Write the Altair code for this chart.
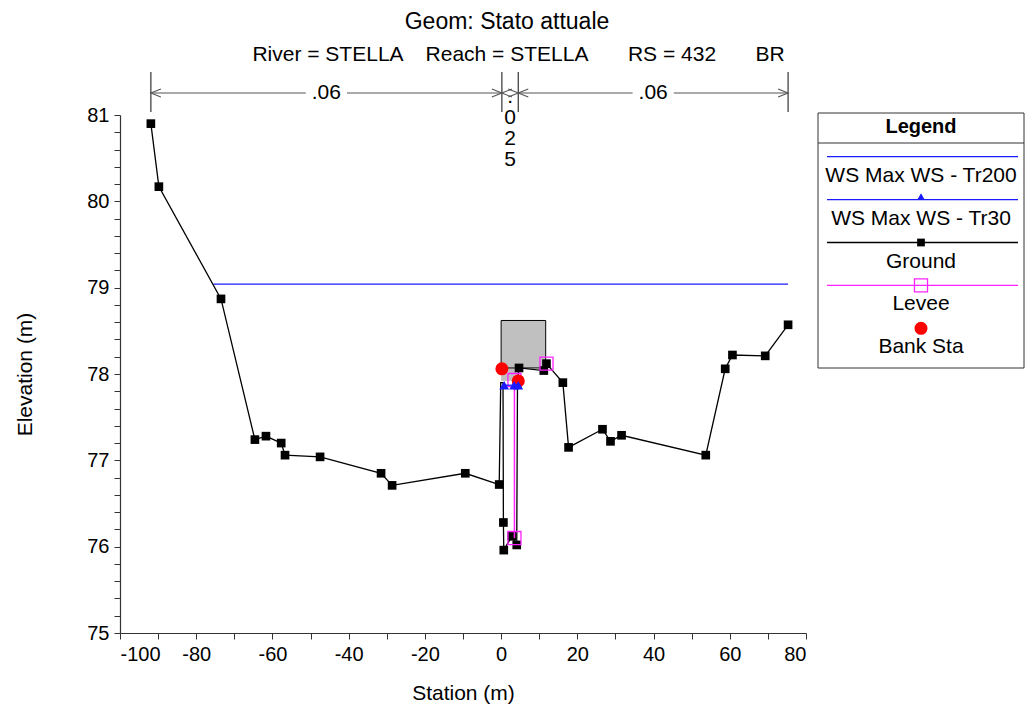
import altair as alt
import pandas as pd

FONT = "Liberation Sans"

# ---------------- data ----------------
chart_title = "Geom: Stato attuale"
header_items = ["River = STELLA", "Reach = STELLA", "RS = 432", "BR"]

ground_x = [-91.9, -89.8, -73.5, -64.6, -61.7, -57.7, -56.7, -47.5, -31.5, -28.6,
            -9.4, -0.5, -0.1, 0.5, 0.6, 0.7, 2.8, 4.1, 4.3, 4.7,
            11.2, 11.9, 16.2, 17.7, 26.6, 28.7, 31.6, 53.7, 58.8, 60.7, 69.3, 75.3]
ground_y = [80.9, 80.17, 78.87, 77.24, 77.28, 77.2, 77.06, 77.04, 76.85, 76.71,
            76.85, 76.72, 77.9, 77.9, 76.28, 75.96, 76.12, 76.02, 77.9, 78.07,
            78.04, 78.12, 77.9, 77.15, 77.36, 77.22, 77.29, 77.06, 78.06, 78.22, 78.21, 78.57]
ground_pt = [1, 1, 1, 1, 1, 1, 1, 1, 1, 1,
             1, 1, 0, 0, 1, 1, 1, 1, 0, 1,
             1, 1, 1, 1, 1, 1, 1, 1, 1, 1, 1, 1]

ws200_x = [-75.5, 75.3]
ws200_y = [79.04, 79.04]

ws30_x = [0.8, 3.4, 4.5]
ws30_y = [77.87, 77.87, 77.87]

levee_x = [3.5, 3.5, 11.9]
levee_y = [76.1, 77.93, 78.12]
levee_grp = [0, 0, 1]

bank_x = [0.2, 4.5]
bank_y = [78.06, 77.92]

deck_x = [0.0, 11.7]
deck_top = [78.62, 78.62]
deck_bot = [78.07, 78.07]
deck_low_x = [0.0, 4.6]
deck_low_bot = [77.92, 77.92]

n_bounds = [-91.9, 0.2, 4.5, 75.3]
n_values = [".06", ".025", ".06"]

legend_names = ["WS Max WS - Tr200", "WS Max WS - Tr30", "Ground", "Levee", "Bank Sta"]

# ---------------- colours ----------------
C_WS = "#1a1aff"
C_GROUND = "black"
C_LEVEE = "#ff22ff"
C_BANK = "#ff0000"
C_DIM = "#555555"

xscale = alt.Scale(domain=[-100, 80], nice=False, zero=False)
yscale = alt.Scale(domain=[75, 81], nice=False, zero=False)

xaxis = alt.Axis(values=list(range(-100, 81, 10)),
                 labelExpr="datum.value % 20 == 0 ? '' + datum.value : ''",
                 tickSize=6, labelPadding=5, grid=False,
                 titleX=343, titleY=60, titleBaseline="middle", titleAlign="center")
yaxis = alt.Axis(values=[round(75 + 0.2 * i, 1) for i in range(31)],
                 labelExpr="abs(datum.value - round(datum.value)) < 0.001 ? '' + round(datum.value) : ''",
                 tickSize=6, labelPadding=5, grid=False,
                 titleX=-95, titleY=259, titleAngle=270, titleBaseline="middle", titleAlign="center")


def X(field="x"):
    return alt.X(f"{field}:Q", scale=xscale, axis=xaxis, title="Station (m)")


def Y(field="y"):
    return alt.Y(f"{field}:Q", scale=yscale, axis=yaxis, title="Elevation (m)")


one = pd.DataFrame({"a": [0]})

# ---------------- data frames ----------------
gdf = pd.DataFrame({"x": ground_x, "y": ground_y, "pt": ground_pt, "i": range(len(ground_x))})
w200 = pd.DataFrame({"x": ws200_x, "y": ws200_y})
w30 = pd.DataFrame({"x": ws30_x, "y": ws30_y})
lev = pd.DataFrame({"x": levee_x, "y": levee_y, "g": levee_grp})
bank = pd.DataFrame({"x": bank_x, "y": bank_y})
deck = pd.DataFrame({"x": [deck_x[0]], "x2": [deck_x[1]], "y": [deck_bot[0]], "y2": [deck_top[0]]})
deck_low = pd.DataFrame({"x": [deck_low_x[0]], "x2": [deck_low_x[1]],
                         "y": [deck_low_bot[0]], "y2": [deck_bot[0]]})

layers = []

# bridge deck
layers.append(alt.Chart(deck_low).mark_rect(color="#c0c0c0").encode(
    x=X(), x2="x2:Q", y=Y(), y2="y2:Q"))
layers.append(alt.Chart(deck).mark_rect(fill="#c0c0c0", stroke="black", strokeWidth=1).encode(
    x=X(), x2="x2:Q", y=Y(), y2="y2:Q"))

# water surfaces
layers.append(alt.Chart(w200).mark_line(color=C_WS, strokeWidth=1.3).encode(x=X(), y=Y()))

# ground
layers.append(alt.Chart(gdf).mark_line(color=C_GROUND, strokeWidth=1.3).encode(
    x=X(), y=Y(), order="i:Q"))
layers.append(alt.Chart(gdf).transform_filter("datum.pt == 1").mark_point(
    shape="square", filled=True, color=C_GROUND, size=75, opacity=1).encode(x=X(), y=Y()))

# levee
layers.append(alt.Chart(lev).mark_line(color=C_LEVEE, strokeWidth=1.5).encode(
    x=X(), y=Y(), detail="g:N"))
layers.append(alt.Chart(lev).mark_point(shape="square", filled=False, color=C_LEVEE,
                                        size=170, strokeWidth=1.3, opacity=1).encode(x=X(), y=Y()))

# bank stations
layers.append(alt.Chart(bank).mark_point(shape="circle", filled=True, color=C_BANK,
                                         size=170, opacity=1).encode(x=X(), y=Y()))

# Tr30 water surface
layers.append(alt.Chart(w30).mark_line(color=C_WS, strokeWidth=1.3).encode(x=X(), y=Y()))
layers.append(alt.Chart(w30).mark_point(shape="triangle-up", filled=True, color=C_WS,
                                        size=95, opacity=1).encode(x=X(), y=Y()))

# ---------------- Manning's n dimension lines ----------------
ticks = pd.DataFrame({"x": n_bounds})
layers.append(alt.Chart(ticks).mark_rule(color="#333333", strokeWidth=1.2).encode(
    x=X(), y=alt.value(-43), y2=alt.value(-3)))

segs, heads_l, heads_r, htxt, vtxt = [], [], [], [], []
for i, lab in enumerate(n_values):
    a, b = n_bounds[i], n_bounds[i + 1]
    mid = (a + b) / 2
    if b - a > 20:
        gap = 5.4
        segs.append({"x": a, "x2": mid - gap})
        segs.append({"x": mid + gap, "x2": b})
        htxt.append({"x": mid, "t": lab})
    else:
        vtxt.append({"x": mid, "t": "\n".join(list(lab))})
    heads_l.append({"x": a})
    heads_r.append({"x": b})

layers.append(alt.Chart(pd.DataFrame(segs)).mark_rule(color=C_DIM, strokeWidth=1.2).encode(
    x=X(), x2="x2:Q", y=alt.value(-22)))
layers.append(alt.Chart(pd.DataFrame(heads_l)).mark_point(
    shape="M 2 -0.8 L 0 0 L 2 0.8", filled=False, color=C_DIM, size=100, strokeWidth=1.1,
    opacity=1).encode(x=X(), y=alt.value(-22)))
layers.append(alt.Chart(pd.DataFrame(heads_r)).mark_point(
    shape="M -2 -0.8 L 0 0 L -2 0.8", filled=False, color=C_DIM, size=100, strokeWidth=1.1,
    opacity=1).encode(x=X(), y=alt.value(-22)))
layers.append(alt.Chart(pd.DataFrame(htxt)).mark_text(
    font=FONT, fontSize=21, color="black", baseline="middle", align="center").encode(
    x=X(), y=alt.value(-22), text="t:N"))
layers.append(alt.Chart(pd.DataFrame(vtxt)).mark_text(
    font=FONT, fontSize=21, color="black", baseline="alphabetic", align="center",
    lineBreak="\n", lineHeight=21).encode(x=X(), y=alt.value(-12), text="t:N"))

# ---------------- title & header ----------------
layers.append(alt.Chart(one).mark_text(
    text=chart_title, font=FONT, fontSize=23, color="black", align="center",
    baseline="middle").encode(x=alt.value(387), y=alt.value(-93)))
header_px = [208, 387, 552, 650]
for txt, px in zip(header_items, header_px):
    layers.append(alt.Chart(one).mark_text(
        text=txt, font=FONT, fontSize=21, color="black", align="center",
        baseline="middle").encode(x=alt.value(px), y=alt.value(-60)))

# ---------------- legend ----------------
LX0, LX1 = 698, 904
LC = (LX0 + LX1) / 2
layers.append(alt.Chart(one).mark_rect(fill="white", stroke="#333333", strokeWidth=1).encode(
    x=alt.value(LX0), x2=alt.value(LX1), y=alt.value(-2), y2=alt.value(253)))
layers.append(alt.Chart(one).mark_rule(color="#333333", strokeWidth=1).encode(
    x=alt.value(LX0), x2=alt.value(LX1), y=alt.value(28)))
layers.append(alt.Chart(one).mark_text(
    text="Legend", font=FONT, fontSize=20, fontWeight="bold", color="black",
    align="center", baseline="middle").encode(x=alt.value(LC), y=alt.value(12)))

leg_colors = [C_WS, C_WS, C_GROUND, C_LEVEE, C_BANK]
leg_shapes = [None, "triangle-up", "square", "square", "circle"]
leg_filled = [True, True, True, False, True]
leg_sizes = [0, 60, 60, 170, 170]
leg_line = [True, True, True, True, False]
for k, name in enumerate(legend_names):
    ly = 41.7 + k * 42.9
    if leg_line[k]:
        layers.append(alt.Chart(one).mark_rule(color=leg_colors[k], strokeWidth=1.3).encode(
            x=alt.value(LX0 + 9), x2=alt.value(LX1 - 6), y=alt.value(ly)))
    if leg_shapes[k]:
        layers.append(alt.Chart(one).mark_point(
            shape=leg_shapes[k], filled=leg_filled[k], color=leg_colors[k], size=leg_sizes[k],
            strokeWidth=1.3, opacity=1).encode(x=alt.value(LC), y=alt.value(ly - (3 if k == 1 else 0))))
    layers.append(alt.Chart(one).mark_text(
        text=name, font=FONT, fontSize=21, color="black", align="center",
        baseline="middle").encode(x=alt.value(LC), y=alt.value(ly + 19)))

chart = alt.layer(*layers).properties(
    width=686, height=518,
    autosize=alt.AutoSizeParams(type="none"),
    padding={"left": 112, "top": 107, "right": 219, "bottom": 71},
).configure_view(stroke=None).configure_axis(
    labelFont=FONT, titleFont=FONT, labelFontSize=20, titleFontSize=21,
    titleFontWeight="normal", labelColor="black", titleColor="black",
    domainColor="#333333", tickColor="#333333", domainWidth=1.2, tickWidth=1
)

chart.save("out.html", embed_options={"renderer": "svg", "actions": False})
